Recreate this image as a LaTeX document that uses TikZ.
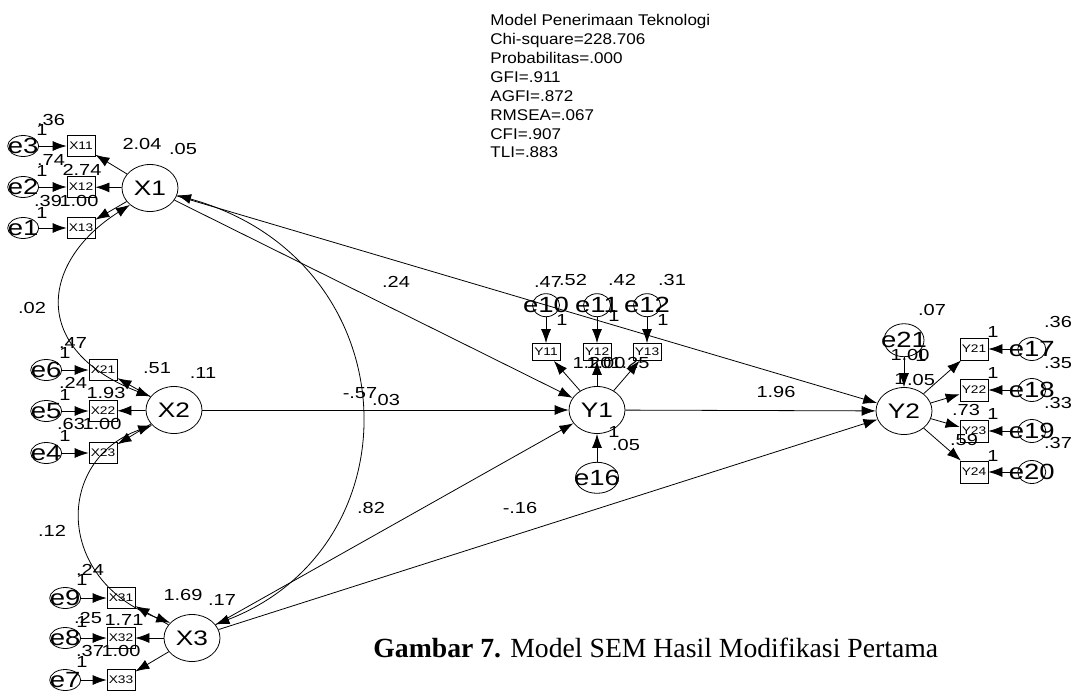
\documentclass[tikz,border=0pt]{standalone}
\usepackage{fontspec}
\setmainfont{Liberation Serif}
\newfontfamily\amosfont[FakeStretch=1.25]{Liberation Sans}
\newfontfamily\fitfont[FakeStretch=1.1]{Liberation Sans}
\usepackage{tikz}
\usetikzlibrary{shapes.misc, shapes.geometric, arrows.meta, positioning, calc}
\tikzset{
  latent/.style={ellipse,draw,minimum width=56pt,minimum height=47pt,inner sep=0pt,font=\amosfont\fontsize{21}{24}\selectfont},
  indicator/.style={rectangle,draw,minimum width=28pt,minimum height=21pt,inner sep=0pt,font=\amosfont\fontsize{11}{12}\selectfont},
  errvar/.style={ellipse,draw,minimum width=31pt,minimum height=21pt,inner sep=0pt,
    label={[font=\amosfont\fontsize{22}{24}\selectfont,inner sep=0pt]center:#1}},
  errsmall/.style={errvar=#1,minimum width=28pt,minimum height=23pt},
  estimate/.style={inner sep=0pt,font=\amosfont\fontsize{16}{18}\selectfont},
  regress/.style={-{Latex[length=14pt,width=10pt]}},
  covar/.style={{Latex[length=14pt,width=10pt]}-{Latex[length=14pt,width=10pt]}},
}

\begin{document}
\begin{tikzpicture}[x=1pt,y=-1pt,line width=.8pt]
    \useasboundingbox (0,0) rectangle (1078,691);
    % latent variables
    \node[latent] (X1) at (150,188) {X1};
    \node[latent] (X2) at (174,410) {X2};
    \node[latent] (X3) at (192,638) {X3};
    \node[latent] (Y1) at (597,410) {Y1};
    \node[latent] (Y2) at (904,411) {Y2};
    % indicators
    \node[indicator] (X11) at (81,146) {X11};
    \node[indicator] (X12) at (81,187) {X12};
    \node[indicator] (X13) at (81,228) {X13};
    \node[indicator] (X21) at (103,370) {X21};
    \node[indicator] (X22) at (103,411) {X22};
    \node[indicator] (X23) at (103,453) {X23};
    \node[indicator] (X31) at (121,598) {X31};
    \node[indicator] (X32) at (121,638) {X32};
    \node[indicator] (X33) at (121,680) {X33};
    \node[indicator,minimum height=17pt] (Y11) at (546,352) {Y11};
    \node[indicator,minimum height=17pt] (Y12) at (597,352) {Y12};
    \node[indicator,minimum height=17pt] (Y13) at (647,352) {Y13};
    \node[indicator,minimum height=22pt] (Y21) at (974,349) {Y21};
    \node[indicator,minimum height=22pt] (Y22) at (974,390) {Y22};
    \node[indicator,minimum height=22pt] (Y23) at (974,431) {Y23};
    \node[indicator,minimum height=22pt] (Y24) at (974,472) {Y24};
    % error terms
    \node[errvar=e3,left=27.5pt of X11] (e3) {};
    \node[errvar=e2,left=27.5pt of X12] (e2) {};
    \node[errvar=e1,left=27.5pt of X13] (e1) {};
    \node[errvar=e6,left=26.5pt of X21] (e6) {};
    \node[errvar=e5,left=26.5pt of X22] (e5) {};
    \node[errvar=e4,left=26.5pt of X23] (e4) {};
    \node[errvar=e9,left=25.5pt of X31] (e9) {};
    \node[errvar=e8,left=25.5pt of X32] (e8) {};
    \node[errvar=e7,left=25.5pt of X33] (e7) {};
    \node[errsmall=e10,minimum width=27pt,above=26pt of Y11] (e10) {};
    \node[errsmall=e11,minimum width=27pt,above=26pt of Y12] (e11) {};
    \node[errsmall=e12,minimum width=27pt,above=26pt of Y13] (e12) {};
    \node[errvar=e16,minimum width=43pt,minimum height=31pt,below=28pt of Y1] (e16) {};
    \node[errvar=e21,minimum width=40pt,minimum height=33pt,above=30pt of Y2] (e21) {};
    \node[errsmall=e17,right=29pt of Y21] (e17) {};
    \node[errsmall=e18,right=29pt of Y22] (e18) {};
    \node[errsmall=e19,right=29pt of Y23] (e19) {};
    \node[errsmall=e20,right=29pt of Y24] (e20) {};
    % measurement paths
    \draw[regress] (X1) -- (X11);
    \draw[regress] (X1) -- (X12);
    \draw[regress] (X1) -- (X13);
    \draw[regress] (X2) -- (X21);
    \draw[regress] (X2) -- (X22);
    \draw[regress] (X2) -- (X23);
    \draw[regress] (X3) -- (X31);
    \draw[regress] (X3) -- (X32);
    \draw[regress] (X3) -- (X33);
    \draw[regress] (Y1) -- (Y11);
    \draw[regress] (Y1) -- (Y12);
    \draw[regress] (Y1) -- (Y13);
    \draw[regress] (Y2) -- (Y21);
    \draw[regress] (Y2) -- (Y22);
    \draw[regress] (Y2) -- (Y23);
    \draw[regress] (Y2) -- (Y24);
    \draw[regress] (e1) -- (X13);
    \draw[regress] (e2) -- (X12);
    \draw[regress] (e3) -- (X11);
    \draw[regress] (e4) -- (X23);
    \draw[regress] (e5) -- (X22);
    \draw[regress] (e6) -- (X21);
    \draw[regress] (e7) -- (X33);
    \draw[regress] (e8) -- (X32);
    \draw[regress] (e9) -- (X31);
    \draw[regress] (e10) -- (Y11);
    \draw[regress] (e11) -- (Y12);
    \draw[regress] (e12) -- (Y13);
    \draw[regress] (e17) -- (Y21);
    \draw[regress] (e18) -- (Y22);
    \draw[regress] (e19) -- (Y23);
    \draw[regress] (e20) -- (Y24);
    \draw[regress] (e16) -- (Y1);
    \draw[regress] (e21) -- (Y2);
    % structural paths
    \draw[regress] (X1) -- (Y1);
    \draw[regress] (X1) -- (Y2);
    \draw[regress] (X2) -- (Y1);
    \draw[regress] (X3) -- (Y1);
    \draw[regress] (X3) -- (Y2);
    \draw[regress] (Y1) -- (Y2);
    % covariances
    \draw[covar] (X1.220) .. controls (40,262) and (30,350) .. (X2.150);
    \draw[covar] (X2.215) .. controls (55,460) and (55,580) .. (X3.145);
    \draw[covar] (X1.-15) .. controls (410,260) and (420,545) .. (X3.30);
    % estimates
    \node[estimate] (vX1) at (183,149) {.05};
    \node[estimate] (lX11) at (142,144) {2.04};
    \node[estimate] (lX12) at (82,170) {2.74};
    \node[estimate] (lX13) at (79,201) {1.00};
    \node[estimate] (ve3) at (51,120) {.36};
    \node[estimate] (we3) at (42,130) {1};
    \node[estimate] (ve2) at (51,160) {.74};
    \node[estimate] (we2) at (42,171) {1};
    \node[estimate] (ve1) at (48,201) {.39};
    \node[estimate] (we1) at (42,213) {1};
    \node[estimate] (vX2) at (203,373) {.11};
    \node[estimate] (lX21) at (157,368) {.51};
    \node[estimate] (lX22) at (106,393) {1.93};
    \node[estimate] (lX23) at (102,424) {1.00};
    \node[estimate] (ve6) at (73,343) {.47};
    \node[estimate] (we6) at (65,353) {1};
    \node[estimate] (ve5) at (73,383) {.24};
    \node[estimate] (we5) at (65,395) {1};
    \node[estimate] (ve4) at (71,424) {.63};
    \node[estimate] (we4) at (65,436) {1};
    \node[estimate] (vX3) at (222,600) {.17};
    \node[estimate] (lX31) at (183,595) {1.69};
    \node[estimate] (lX32) at (124,620) {1.71};
    \node[estimate] (lX33) at (121,651) {1.00};
    \node[estimate] (ve9) at (90,570) {.24};
    \node[estimate] (we9) at (82,580) {1};
    \node[estimate] (ve8) at (88,618) {.25};
    \node[estimate] (we8) at (82,622) {1};
    \node[estimate] (ve7) at (90,651) {.37};
    \node[estimate] (we7) at (82,662) {1};
    \node[estimate] (ve10) at (548,282) {.47};
    \node[estimate] (ve11) at (573,280) {.52};
    \node[estimate] (ve12) at (622,280) {.42};
    \node[estimate] (vY1) at (672,280) {.31};
    \node[estimate] (we10) at (562,320) {1};
    \node[estimate] (we11) at (614,316) {1};
    \node[estimate] (we12) at (663,320) {1};
    \node[estimate] (lY11) at (592,363) {1.20};
    \node[estimate] (lY12) at (606,363) {1.00};
    \node[estimate] (lY13) at (630,363) {1.25};
    \node[estimate] (we16) at (614,432) {1};
    \node[estimate] (ve16) at (626,445) {.05};
    \node[estimate] (ve21) at (932,310) {.07};
    \node[estimate] (lY21x) at (910,355) {1.00};
    \node[estimate] (we21) at (921,356) {1};
    \node[estimate] (wY2) at (900,379) {1};
    \node[estimate] (vY2) at (921,380) {.05};
    \node[estimate] (we17) at (993,332) {1};
    \node[estimate] (ve17) at (1058,322) {.36};
    \node[estimate] (we18) at (993,373) {1};
    \node[estimate] (ve18) at (1058,363) {.35};
    \node[estimate] (lY23) at (966,410) {.73};
    \node[estimate] (we19) at (993,414) {1};
    \node[estimate] (ve19) at (1058,403) {.33};
    \node[estimate] (lY24) at (964,440) {.59};
    \node[estimate] (we20) at (993,456) {1};
    \node[estimate] (ve20) at (1058,443) {.37};
    \node[estimate] (bX1Y1) at (396,282) {.24};
    \node[estimate] (bX2Y1) at (386,400) {.03};
    \node[estimate] (cX1X3) at (360,393) {-.57};
    \node[estimate] (bX3Y1) at (371,508) {.82};
    \node[estimate] (bX3Y2) at (520,508) {-.16};
    \node[estimate] (bY1Y2) at (776,392) {1.96};
    \node[estimate] (cX1X2) at (32,308) {.02};
    \node[estimate] (cX2X3) at (52,531) {.12};
    % fit summary and caption
    \node[anchor=north west,inner sep=0pt,align=left,font=\fitfont\fontsize{15.5}{18.9}\selectfont] (fit) at (490,14)
      {Model Penerimaan Teknologi\\Chi-square=228.706\\Probabilitas=.000\\GFI=.911\\AGFI=.872\\RMSEA=.067\\CFI=.907\\TLI=.883};
    \node[anchor=base west,inner sep=0pt,font=\fontsize{27.7}{32}\selectfont] (caption) at (373,657)
      {\textbf{Gambar 7.} Model SEM Hasil Modifikasi Pertama};
\end{tikzpicture}
\end{document}
